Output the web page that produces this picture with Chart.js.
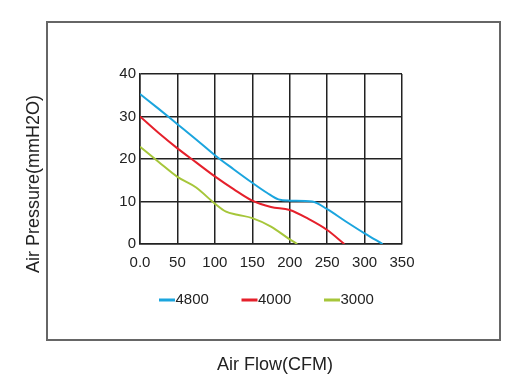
<!DOCTYPE html>
<html>
<head>
<meta charset="utf-8">
<script src="https://cdn.jsdelivr.net/npm/chart.js@4.4.0/dist/chart.umd.min.js"></script>
<style>
body{margin:0;background:#fff;}
#chart{display:block;}
</style>
</head>
<body>
<canvas id="chart" width="528" height="379"></canvas>
<script>
// fan curves
var seriesLabels=['4800','4000','3000'];
var seriesColors=['#1ba5de','#e5202b','#a6c63a'];

var flow4800=[0,25,50,75,100,125,150,170,185,200,230,250,275,300,324];
var pres4800=[35.3,31.8,28.2,24.6,20.9,17.6,14.4,12.0,10.5,10.2,10.0,8.2,5.3,2.5,0];

var flow4000=[0,25,50,75,100,125,150,175,200,225,250,273];
var pres4000=[30,26.1,22.5,19.2,15.9,12.9,10.2,8.7,8.0,5.9,3.3,0];

var flow3000=[0,25,50,75,100,115,130,150,175,200,210];
var pres3000=[22.9,19.3,15.8,13.3,9.5,7.6,6.9,6.1,4.1,1.1,0];

var xTickLabels=['0.0','50','100','150','200','250','300','350'];
var yTickLabels=['0','10','20','30','40'];
var xTitle='Air Flow(CFM)';
var yTitle='Air Pressure(mmH2O)';

var FONT="'Liberation Sans', Arial, sans-serif";
var INK='#222';

function toPoints(xs,ys){
  return xs.map(function(x,i){return {x:x,y:ys[i]};});
}

var flows=[flow4800,flow4000,flow3000];
var pressures=[pres4800,pres4000,pres3000];

var datasets=seriesLabels.map(function(lbl,i){
  return {
    label:lbl,
    data:toPoints(flows[i],pressures[i]),
    borderColor:seriesColors[i],
    backgroundColor:seriesColors[i],
    borderWidth:2,
    pointRadius:0,
    cubicInterpolationMode:'monotone',
    fill:false
  };
});

// outer box, axis titles and the little legend under the plot
var frame={
  id:'frame',
  beforeDraw:function(c){
    var ctx=c.ctx;
    ctx.save();
    ctx.strokeStyle='#666';
    ctx.lineWidth=2;
    ctx.strokeRect(47,22,453,318);
    ctx.restore();
  },
  afterDraw:function(c){
    var ctx=c.ctx;
    ctx.save();
    ctx.fillStyle=INK;
    ctx.font='18px '+FONT;
    ctx.textAlign='center';
    ctx.textBaseline='middle';
    ctx.fillText(xTitle,275,365);
    ctx.translate(34,184);
    ctx.rotate(-Math.PI/2);
    ctx.fillText(yTitle,0,0);
    ctx.restore();

    ctx.save();
    ctx.font='15px '+FONT;
    ctx.textBaseline='middle';
    c.data.datasets.forEach(function(ds,i){
      var x=159+i*82.5,y=300;
      ctx.fillStyle=ds.borderColor;
      ctx.fillRect(x,y-1.5,16,3);
      ctx.fillStyle=INK;
      ctx.fillText(ds.label,x+16.5,y);
    });
    ctx.restore();
  }
};

var gridOpts={color:INK,lineWidth:1.5,drawTicks:false};
var borderOpts={color:INK,width:1.5};

var chart=new Chart(document.getElementById('chart'),{
  type:'line',
  data:{datasets:datasets},
  options:{
    responsive:false,
    animation:false,
    devicePixelRatio:1,
    layout:{padding:{left:0,top:74,right:126,bottom:0}},
    plugins:{legend:{display:false},tooltip:{enabled:false}},
    scales:{
      x:{
        type:'linear',min:0,max:350,
        ticks:{stepSize:50,padding:10,color:INK,maxRotation:0,autoSkip:false,
          font:{size:15,family:FONT},
          callback:function(v,i){return xTickLabels[i];}},
        grid:gridOpts,
        border:borderOpts,
        afterFit:function(s){s.height=135;}
      },
      y:{
        min:0,max:40,
        ticks:{stepSize:10,padding:4,color:INK,
          font:{size:15,family:FONT},
          callback:function(v,i){return yTickLabels[i];}},
        grid:gridOpts,
        border:borderOpts,
        afterFit:function(s){s.width=140;}
      }
    }
  },
  plugins:[frame]
});
</script>
</body>
</html>
